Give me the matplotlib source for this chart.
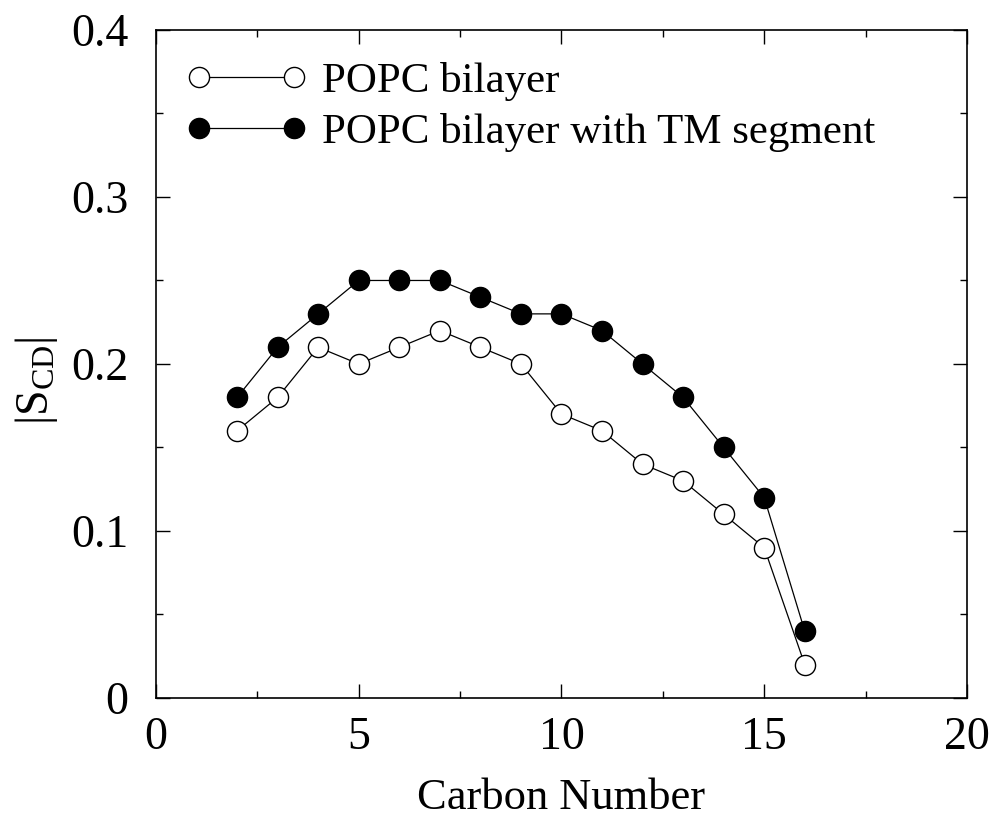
import matplotlib
matplotlib.use("Agg")
import matplotlib.pyplot as plt
from matplotlib.ticker import MultipleLocator, FixedLocator, FixedFormatter

plt.rcParams["font.family"] = ["Liberation Serif", "DejaVu Serif"]
plt.rcParams["mathtext.fontset"] = "custom"
plt.rcParams["mathtext.rm"] = "Liberation Serif"
plt.rcParams["mathtext.it"] = "Liberation Serif:italic"

# Data
carbon = [2, 3, 4, 5, 6, 7, 8, 9, 10, 11, 12, 13, 14, 15, 16]
popc = [0.16, 0.18, 0.21, 0.20, 0.21, 0.22, 0.21, 0.20, 0.17, 0.16, 0.14, 0.13, 0.11, 0.09, 0.02]
popc_tm = [0.18, 0.21, 0.23, 0.25, 0.25, 0.25, 0.24, 0.23, 0.23, 0.22, 0.20, 0.18, 0.15, 0.12, 0.04]
y_ticks = [0, 0.1, 0.2, 0.3, 0.4]
y_labels = ["0", "0.1", "0.2", "0.3", "0.4"]

fig = plt.figure(figsize=(9.95, 8.17), dpi=100)
ax = fig.add_axes([0.1568, 0.1457, 0.815, 0.8176])

ax.plot(carbon, popc, color="black", linewidth=0.9, marker="o", markersize=14.5,
        markerfacecolor="white", markeredgecolor="black", markeredgewidth=1.0,
        label="POPC bilayer")
ax.plot(carbon, popc_tm, color="black", linewidth=0.9, marker="o", markersize=14.5,
        markerfacecolor="black", markeredgecolor="black",
        label="POPC bilayer with TM segment")

ax.set_xlim(0, 20)
ax.set_ylim(0, 0.4)
ax.xaxis.set_major_locator(MultipleLocator(5))
ax.xaxis.set_minor_locator(MultipleLocator(2.5))
ax.yaxis.set_major_locator(FixedLocator(y_ticks))
ax.yaxis.set_major_formatter(FixedFormatter(y_labels))
ax.yaxis.set_minor_locator(MultipleLocator(0.05))
ax.tick_params(which="both", direction="in", top=True, right=True, labelsize=33)
ax.tick_params(axis="x", pad=13)
ax.tick_params(axis="y", pad=20)
ax.tick_params(which="major", length=10, width=1)
ax.tick_params(which="minor", length=5, width=1)
for s in ax.spines.values():
    s.set_linewidth(1.2)

ax.set_xlabel("Carbon Number", fontsize=32, labelpad=14)
ax.set_ylabel(r"$|\mathrm{S}_{\mathrm{CD}}|$", fontsize=33, labelpad=8, y=0.475)

ax.legend(loc="upper left", frameon=False, fontsize=31, numpoints=2,
          handlelength=2.8, handletextpad=0.35, labelspacing=0.28,
          borderaxespad=0.3, bbox_to_anchor=(0.0, 0.998))

fig.savefig("out.png", dpi=100)
